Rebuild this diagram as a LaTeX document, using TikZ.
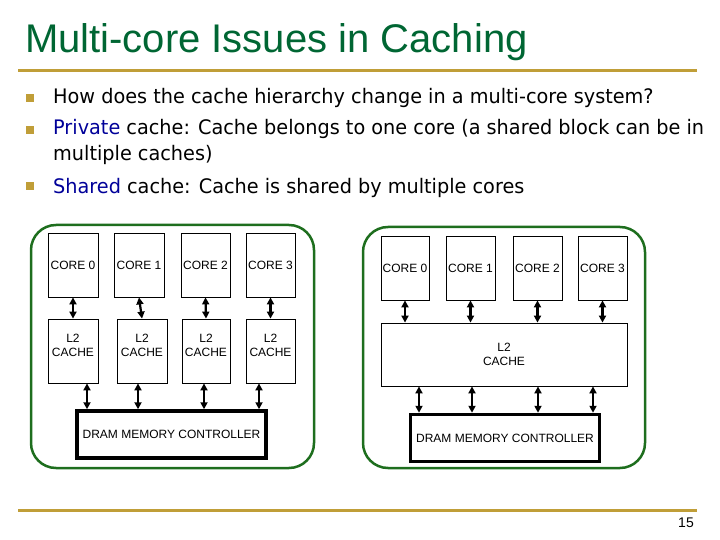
\documentclass[tikz,border=0pt]{standalone}
\usepackage{fontspec}
\setmainfont{Liberation Sans}
\newfontfamily\bodyfont[FakeStretch=0.963]{DejaVu Sans}
\usetikzlibrary{arrows.meta}
\definecolor{titlegreen}{RGB}{0,102,51}
\definecolor{gold}{RGB}{192,158,56}
\definecolor{darkblue}{RGB}{0,0,153}
\definecolor{framegreen}{RGB}{30,110,30}
\begin{document}
\begin{tikzpicture}[x=1pt,y=-1pt,
  box/.style={draw,line width=0.8pt,minimum width=50pt,minimum height=64pt,inner sep=0pt,
    font=\fontsize{12}{14}\selectfont,align=center},
  cachebox/.style={box,text depth=12pt},
  dramstyle/.style={draw,line width=3.5pt,minimum width=189pt,minimum height=47pt,inner sep=0pt,
    font=\fontsize{12}{14}\selectfont},
  frame/.style={draw=framegreen,line width=2.5pt,rounded corners=25pt},
  arr/.style={line width=2.2pt,{Triangle[length=7pt,width=7pt]}-{Triangle[length=7pt,width=7pt]}},
  bulletbox/.style={fill=gold,minimum size=8pt,inner sep=0pt},
  body/.style={anchor=base west,inner sep=0pt,font=\bodyfont\fontsize{20}{24}\selectfont},
  rule/.style={draw=gold,line width=3pt}]
\useasboundingbox (0,0) rectangle (720,540);

% title and rules
\node[anchor=base west,inner sep=0pt,font=\fontsize{40}{44}\selectfont,text=titlegreen] (title) at (25,52.5) {Multi-core Issues in Caching};
\draw[rule] (18,71) -- (697,71);
\draw[rule] (18,510) -- (697,510);
\node[anchor=base east,inner sep=0pt,font=\fontsize{14}{16}\selectfont] (pagenum) at (694,527) {15};

% bullets
\node[bulletbox] (b1) at (30,98) {};
\node[bulletbox] (b2) at (30,130) {};
\node[bulletbox] (b3) at (30,186) {};
\node[body] (t1) at (53,103.3) {How does the cache hierarchy change in a multi-core system?};
\node[body] (t2) at (53,134.3) {\textcolor{darkblue}{Private} cache: Cache belongs to one core (a shared block can be in};
\node[body] (t3) at (53,160.5) {multiple caches)};
\node[body] (t4) at (53,193.3) {\textcolor{darkblue}{Shared} cache: Cache is shared by multiple cores};

% left frame (private)
\draw[frame] (31,225) rectangle (314,468);
\node[box] (lc0) at (73,265) {CORE 0};
\node[box] (lc1) at (139,265) {CORE 1};
\node[box,minimum width=49pt] (lc2) at (205.5,265) {CORE 2};
\node[box,minimum width=49pt] (lc3) at (270.5,265) {CORE 3};
\node[cachebox] (ll0) at (73,351) {L2\\CACHE};
\node[cachebox] (ll1) at (142,351) {L2\\CACHE};
\node[cachebox,minimum width=48pt] (ll2) at (206,351) {L2\\CACHE};
\node[cachebox,minimum width=49pt] (ll3) at (270.5,351) {L2\\CACHE};
\node[dramstyle] (ldram) at (171.5,434.5) {DRAM MEMORY CONTROLLER};
\foreach \i in {0,1,2,3} {\draw[arr] (lc\i.south) -- (ll\i.north);}
\draw[arr] ([xshift=14pt]ll0.south) -- ([xshift=14pt]ll0.south |- ldram.north);
\draw[arr] ([xshift=-4pt]ll1.south) -- ([xshift=-4pt]ll1.south |- ldram.north);
\draw[arr] ([xshift=-2pt]ll2.south) -- ([xshift=-2pt]ll2.south |- ldram.north);
\draw[arr] ([xshift=-11.5pt]ll3.south) -- ([xshift=-11.5pt]ll3.south |- ldram.north);

% right frame (shared)
\draw[frame] (363,227) rectangle (645,468);
\node[box,minimum width=48pt] (rc0) at (405,268) {CORE 0};
\node[box,minimum width=49pt] (rc1) at (470.5,268) {CORE 1};
\node[box,minimum width=49pt] (rc2) at (537.5,268) {CORE 2};
\node[box,minimum width=49pt] (rc3) at (602.5,268) {CORE 3};
\node[box,minimum width=246pt,minimum height=63pt] (rl2) at (504,354.5) {L2\\CACHE};
\node[dramstyle] (rdram) at (505,438) {DRAM MEMORY CONTROLLER};
\foreach \i in {0,1,2,3} {\draw[arr] (rc\i.south) -- (rc\i.south |- rl2.north);}
\draw[arr] ([xshift=-85pt]rl2.south) -- ([xshift=-85pt]rl2.south |- rdram.north);
\draw[arr] ([xshift=-32pt]rl2.south) -- ([xshift=-32pt]rl2.south |- rdram.north);
\draw[arr] ([xshift=34pt]rl2.south) -- ([xshift=34pt]rl2.south |- rdram.north);
\draw[arr] ([xshift=89pt]rl2.south) -- ([xshift=89pt]rl2.south |- rdram.north);
\end{tikzpicture}
\end{document}
